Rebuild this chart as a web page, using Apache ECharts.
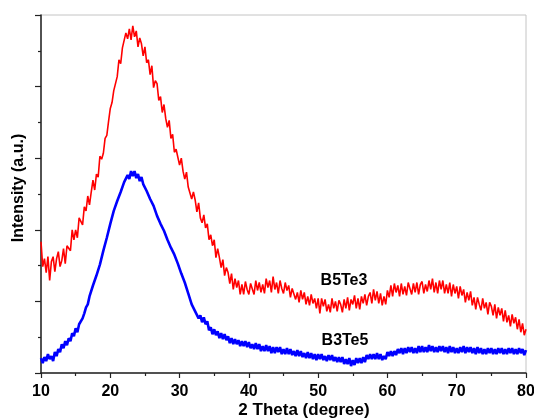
<!DOCTYPE html>
<html>
<head>
<meta charset="utf-8">
<script src="https://cdn.jsdelivr.net/npm/echarts@6/dist/echarts.min.js"></script>
<style>
html,body{margin:0;padding:0;background:#fff;}
#chart{width:534px;height:418px;}
</style>
</head>
<body>
<div id="chart"></div>
<script>
// 2 Theta scan positions (degree)
const theta = [
10,10.25,10.5,10.75, 11,11.25,11.5,11.75, 12,12.25,12.5,12.75, 13,13.25,13.5,13.75,
14,14.25,14.5,14.75, 15,15.25,15.5,15.75, 16,16.25,16.5,16.75, 17,17.25,17.5,17.75,
18,18.25,18.5,18.75, 19,19.25,19.5,19.75, 20,20.25,20.5,20.75, 21,21.25,21.5,21.75,
22,22.25,22.5,22.75, 23,23.25,23.5,23.75, 24,24.25,24.5,24.75, 25,25.25,25.5,25.75,
26,26.25,26.5,26.75, 27,27.25,27.5,27.75, 28,28.25,28.5,28.75, 29,29.25,29.5,29.75,
30,30.25,30.5,30.75, 31,31.25,31.5,31.75, 32,32.25,32.5,32.75, 33,33.25,33.5,33.75,
34,34.25,34.5,34.75, 35,35.25,35.5,35.75, 36,36.25,36.5,36.75, 37,37.25,37.5,37.75,
38,38.25,38.5,38.75, 39,39.25,39.5,39.75, 40,40.25,40.5,40.75, 41,41.25,41.5,41.75,
42,42.25,42.5,42.75, 43,43.25,43.5,43.75, 44,44.25,44.5,44.75, 45,45.25,45.5,45.75,
46,46.25,46.5,46.75, 47,47.25,47.5,47.75, 48,48.25,48.5,48.75, 49,49.25,49.5,49.75,
50,50.25,50.5,50.75, 51,51.25,51.5,51.75, 52,52.25,52.5,52.75, 53,53.25,53.5,53.75,
54,54.25,54.5,54.75, 55,55.25,55.5,55.75, 56,56.25,56.5,56.75, 57,57.25,57.5,57.75,
58,58.25,58.5,58.75, 59,59.25,59.5,59.75, 60,60.25,60.5,60.75, 61,61.25,61.5,61.75,
62,62.25,62.5,62.75, 63,63.25,63.5,63.75, 64,64.25,64.5,64.75, 65,65.25,65.5,65.75,
66,66.25,66.5,66.75, 67,67.25,67.5,67.75, 68,68.25,68.5,68.75, 69,69.25,69.5,69.75,
70,70.25,70.5,70.75, 71,71.25,71.5,71.75, 72,72.25,72.5,72.75, 73,73.25,73.5,73.75,
74,74.25,74.5,74.75, 75,75.25,75.5,75.75, 76,76.25,76.5,76.75, 77,77.25,77.5,77.75,
78,78.25,78.5,78.75, 79,79.25,79.5,79.75, 80
];

// B5Te3 intensity (a.u.)
const b5te3 = [
132,107,115,101, 117,93,112,117, 102,115,122,107, 113,125,110,128,
128,123,144,134, 144,136,156,154, 149,167,163,178, 169,182,194,184,
200,197,218,215, 221,236,239,253, 266,272,284,291, 298,315,311,327,
325,342,336,346, 335,349,338,344, 328,337,331,319, 328,312,315,300,
309,287,294,291, 274,278,262,270, 256,247,254,236, 240,222,225,225,
209,216,203,195, 202,187,189,175, 182,174,162,171, 156,151,159,146,
150,134,139,128, 134,116,125,116, 106,114,98,106, 101,90,100,84,
95,86,93,79, 89,79,92,84, 79,90,88,79, 93,83,91,81,
89,80,95,86, 93,81,97,84, 91,80,93,85, 80,91,83,88,
76,85,86,74, 81,71,83,74, 81,69,77,68, 79,70,75,65,
75,60,75,67, 74,62,69,61, 75,65,72,62, 73,69,61,74,
65,76,63,74, 69,78,65,75, 64,77,70,79, 68,77,81,70,
84,73,82,70, 80,68,77,69, 83,76,88,77, 90,81,88,77,
90,79,87,78, 91,85,79,90, 81,91,79,89, 92,80,89,82,
93,84,95,81, 91,80,93,84, 93,80,89,80, 91,77,89,80,
87,75,87,78, 84,71,81,73, 82,68,76,64, 76,69,63,75,
65,71,59,71, 67,58,69,55, 66,58,65,52, 63,51,58,47,
59,50,56,44, 54,41,50,38, 44
];

// B3Te5 intensity (a.u.)
const b3te5 = [
15,10,16,12, 19,14,17,12, 21,17,24,21, 29,25,32,28,
35,32,40,37, 45,41,49,48, 55,60,66,69, 77,77,88,88,
98,98,109,110, 123,124,136,137, 150,151,163,163, 173,172,182,182,
192,191,199,195, 203,198,203,196, 200,193,197,190, 192,183,184,175,
177,168,168,158, 159,150,152,143, 144,134,135,126, 128,119,120,110,
110,100,101,91, 91,80,79,69, 71,62,64,55, 58,51,56,49,
52,43,46,39, 44,38,42,35, 40,34,39,33, 37,30,35,29,
34,29,33,27, 32,27,32,26, 31,25,29,24, 30,24,29,22,
27,22,28,22, 27,20,26,20, 26,21,26,19, 24,19,25,19,
24,18,22,17, 23,17,22,16, 20,15,21,15, 20,14,19,13,
19,14,19,13, 17,12,18,13, 18,12,16,11, 16,11,16,9,
14,9,15,7, 13,8,15,10, 15,10,16,11, 18,14,19,14,
19,14,20,14, 19,13,17,14, 21,17,22,17, 22,18,24,20,
25,19,25,20, 26,21,26,20, 25,20,27,21, 27,21,26,21,
28,22,27,21, 26,21,27,22, 27,21,26,20, 27,21,26,20,
25,20,26,21, 27,20,26,21, 26,20,25,19, 26,20,25,19,
24,19,25,20, 25,19,24,19, 25,20,25,19, 24,19,25,20,
25,19,24,19, 25,20,24,18, 23
];

const seriesNames = ['B5Te3', 'B3Te5'];
const xTitle = '2 Theta (degree)';
const yTitle = 'Intensity (a.u.)';

const FONT = '"Liberation Sans", Arial, sans-serif';
const chart = echarts.init(document.getElementById('chart'), null, {renderer: 'canvas'});

const pairs = (ys) => theta.map((t, i) => [t, ys[i]]);

chart.setOption({
  animation: false,
  backgroundColor: '#ffffff',
  grid: {left: 41, right: 8, top: 15, bottom: 45, show: true, borderColor: '#c4c4c4', borderWidth: 1,
         containLabel: false, outerBoundsMode: 'none'},
  xAxis: {
    type: 'value', min: 10, max: 80, interval: 10,
    axisLine: {show: true, onZero: false, lineStyle: {color: '#222', width: 1.5}},
    axisTick: {show: true, inside: false, length: 5, lineStyle: {color: '#222', width: 1.2}},
    minorTick: {show: true, splitNumber: 2, length: 3, lineStyle: {color: '#222', width: 1.2}},
    splitLine: {show: false},
    axisLabel: {color: '#000', fontFamily: FONT, fontWeight: 'bold', fontSize: 16, margin: 11}
  },
  yAxis: {
    type: 'value', min: 0, max: 360, interval: 72,
    axisLine: {show: true, onZero: false, lineStyle: {color: '#222', width: 1.5}},
    axisTick: {show: true, inside: false, length: 6, lineStyle: {color: '#222', width: 1.2}},
    minorTick: {show: true, splitNumber: 2, length: 3, lineStyle: {color: '#222', width: 1.2}},
    splitLine: {show: false},
    axisLabel: {show: false}
  },
  series: [
    {name: seriesNames[0], type: 'line', data: pairs(b5te3), showSymbol: false, symbol: 'none',
     lineStyle: {color: '#ff0000', width: 1.6}, itemStyle: {color: '#ff0000'}},
    {name: seriesNames[1], type: 'line', data: pairs(b3te5), showSymbol: false, symbol: 'none',
     lineStyle: {color: '#0000ff', width: 2.6}, itemStyle: {color: '#0000ff'}}
  ],
  graphic: [
    {type: 'text', x: 344, y: 281, style: {text: seriesNames[0], fill: '#000', font: 'bold 16px ' + FONT, align: 'center', verticalAlign: 'middle'}},
    {type: 'text', x: 345, y: 341, style: {text: seriesNames[1], fill: '#000', font: 'bold 16px ' + FONT, align: 'center', verticalAlign: 'middle'}},
    {type: 'text', x: 304, y: 410, style: {text: xTitle, fill: '#000', font: 'bold 17px ' + FONT, align: 'center', verticalAlign: 'middle'}},
    {type: 'text', x: 18.5, y: 188, rotation: Math.PI / 2, style: {text: yTitle, fill: '#000', font: 'bold 16px ' + FONT, align: 'center', verticalAlign: 'middle'}}
  ]
});
</script>
</body>
</html>
